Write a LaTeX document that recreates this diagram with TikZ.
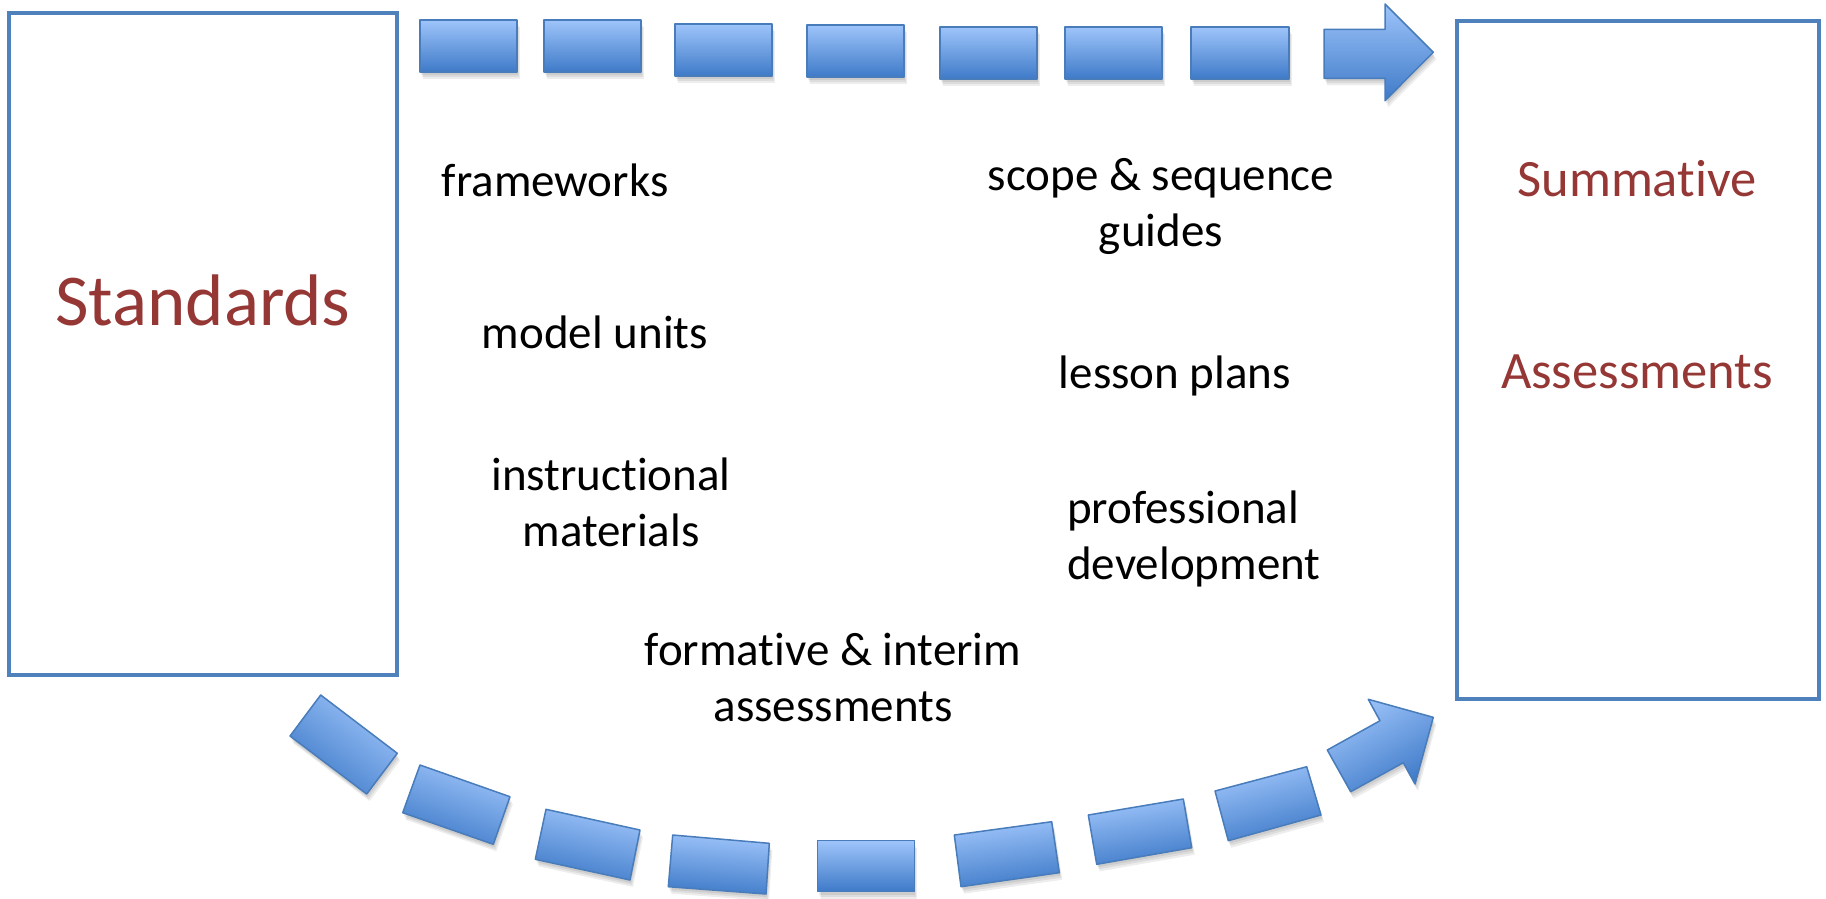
\documentclass[tikz,border=0pt]{standalone}
\usepackage{fontspec}
\setmainfont[Ligatures=NoCommon]{Carlito}
\definecolor{boxblue}{RGB}{79,129,189}
\definecolor{dashtop}{RGB}{158,196,250}
\definecolor{dashbot}{RGB}{62,122,200}
\definecolor{dashline}{RGB}{72,124,186}
\definecolor{titlered}{RGB}{149,55,53}
\tikzset{
  bigbox/.style={draw=boxblue, line width=4pt, inner sep=0pt, fill=white},
  lbl/.style={inner sep=0pt, text=black, font=\fontsize{47}{56}\selectfont},
  ttl/.style={inner sep=0pt, text=titlered},
  dashpiece/.style={top color=dashtop, bottom color=dashbot, draw=dashline, line width=1.5pt, line join=round},
  dashshadow/.style={fill=black, opacity=0.07},
}
\newcommand\dashpiece[2]{%
  \fill[dashshadow, shift={(1,3)}] #2 -- cycle;
  \fill[dashshadow, shift={(2,5)}] #2 -- cycle;
  \fill[dashshadow, shift={(3,7)}] #2 -- cycle;
  \path[dashpiece, shading angle=#1] #2 -- cycle;
}
\begin{document}
\begin{tikzpicture}[x=1pt, y=-1pt]
\useasboundingbox (0,0) rectangle (1826,898);

% boxes
\node[bigbox, minimum width=388pt, minimum height=662pt] (stdbox) at (203,344) {};
\node[bigbox, minimum width=362pt, minimum height=678pt] (sumbox) at (1638,360) {};

% titles
\node[ttl, anchor=base, font=\fontsize{73}{88}\selectfont] (stdt) at (203,325) {Standards};
\node[ttl, anchor=base, font=\fontsize{52.5}{63}\selectfont] (sumt) at (1637,196) {Summative};
\node[ttl, anchor=base, font=\fontsize{52.5}{63}\selectfont] (asst) at (1637,388) {Assessments};

% top dashed arrow
\dashpiece{0}{(420,20) -- (517,20) -- (517,72) -- (420,72)}
\dashpiece{0}{(544,20) -- (641,20) -- (641,72) -- (544,72)}
\dashpiece{0}{(675,24) -- (772,24) -- (772,76) -- (675,76)}
\dashpiece{0}{(807,25) -- (904,25) -- (904,77) -- (807,77)}
\dashpiece{0}{(940,27) -- (1037,27) -- (1037,79) -- (940,79)}
\dashpiece{0}{(1065,27) -- (1162,27) -- (1162,79) -- (1065,79)}
\dashpiece{0}{(1191,27) -- (1289,27) -- (1289,79) -- (1191,79)}
\dashpiece{0}{(1324,29.3) -- (1385,29.3) -- (1385,4) -- (1433.3,52.3) -- (1385,100.7) -- (1385,78.3) -- (1324,78.3)}

% bottom curved dashed arrow
\dashpiece{-37.3}{(320.7,695) -- (397.3,753.3) -- (366.7,794) -- (290,736)}
\dashpiece{-19.4}{(420,765) -- (510,796.7) -- (493.3,844.3) -- (402.7,812.7)}
\dashpiece{-12.4}{(546,809.3) -- (640,830) -- (630,880) -- (535.3,859.3)}
\dashpiece{-4.9}{(672.7,835) -- (769.3,843.3) -- (766,894) -- (668.3,886.7)}
\dashpiece{0}{(817.7,840.7) -- (914.3,840.7) -- (914.3,891.7) -- (817.7,891.7)}
\dashpiece{7.8}{(954.3,835) -- (1051.7,821.7) -- (1059.3,872.7) -- (961,886.7)}
\dashpiece{9.6}{(1088.3,815) -- (1183.3,799) -- (1191.7,847.7) -- (1096.7,864.3)}
\dashpiece{14.8}{(1215,791) -- (1306.7,766.7) -- (1321,815) -- (1228.3,840.7)}
\dashpiece{29}{(1327.3,750) -- (1380,720.7) -- (1368.3,699.3) -- (1433.3,717.3) -- (1415,784) -- (1403.3,762.7) -- (1350.7,791.7)}

% labels (multi-line nodes: base anchor is the last line's baseline)
\node[lbl, anchor=base] (fw) at (555,196) {frameworks};
\node[lbl, anchor=base, align=center] (ss) at (1161,246) {scope \& sequence\\guides};
\node[lbl, anchor=base] (mu) at (595,348) {model units};
\node[lbl, anchor=base] (lp) at (1175,388) {lesson plans};
\node[lbl, anchor=base, align=center] (im) at (611,546) {instructional\\materials};
\node[lbl, anchor=base west, align=left] (pd) at (1067,579) {professional\\development};
\node[lbl, anchor=base, align=center] (fa) at (833,721) {formative \& interim\\assessments};
\end{tikzpicture}
\end{document}
